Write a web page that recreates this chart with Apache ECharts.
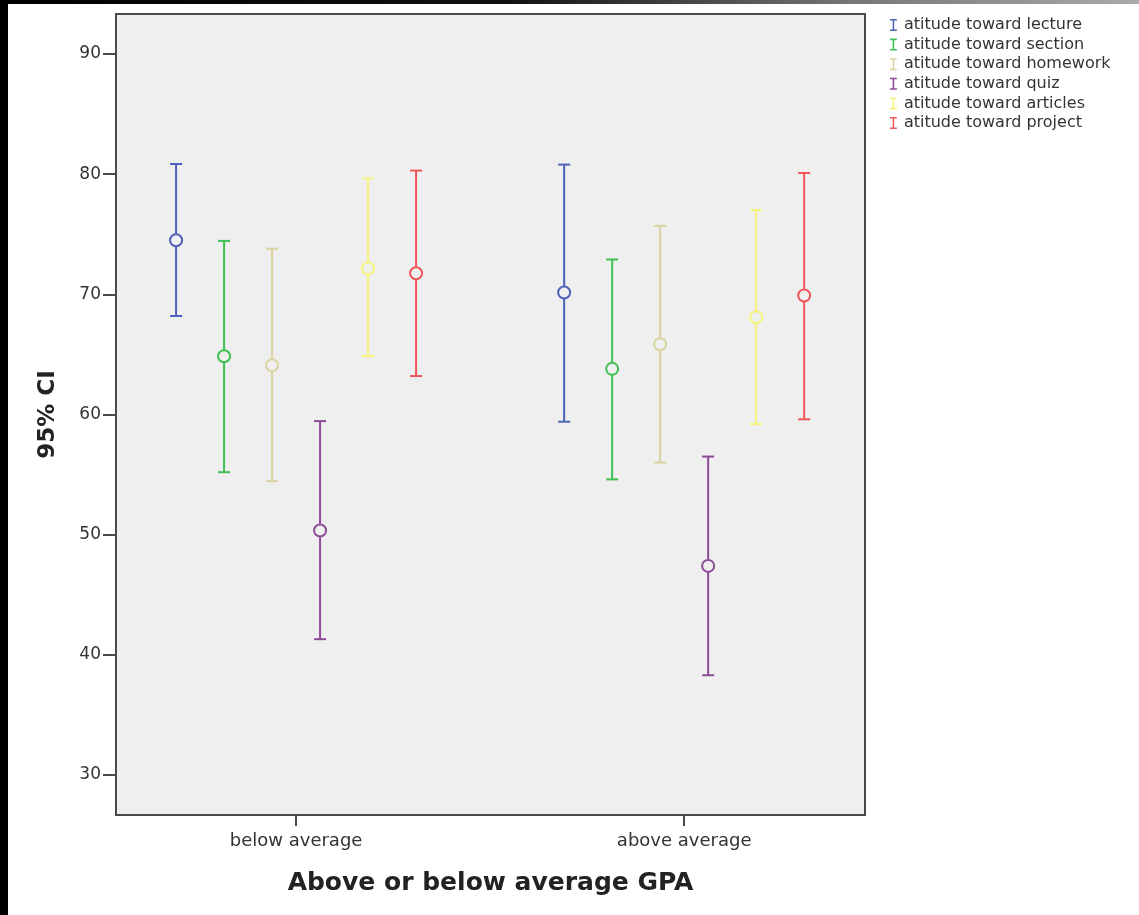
<!DOCTYPE html>
<html>
<head>
<meta charset="utf-8">
<script src="https://cdn.jsdelivr.net/npm/echarts@6/dist/echarts.min.js"></script>
<style>
  html, body { margin: 0; padding: 0; background: #fff; }
  #chart { width: 1139px; height: 915px; position: relative; }
  #leftbar { position: absolute; left: 0; top: 0; width: 8px; height: 915px; background: #000; z-index: 5; }
  #topbar { position: absolute; left: 0; top: 0; width: 1139px; height: 4px; z-index: 5;
            background: linear-gradient(to right, #000 0%, #111 45%, #777 75%, #aaa 100%); }
</style>
</head>
<body>
<div id="leftbar"></div>
<div id="topbar"></div>
<div id="chart"></div>
<script>
// ---- data ----
const categories = ['below average', 'above average'];
const seriesNames = [
  'atitude toward lecture',
  'atitude toward section',
  'atitude toward homework',
  'atitude toward quiz',
  'atitude toward articles',
  'atitude toward project'
];
// [low, mean, high] per category
const lecture  = [[68.2, 74.5, 80.85], [59.4, 70.15, 80.8]];
const section  = [[55.2, 64.85, 74.45], [54.6, 63.8, 72.9]];
const homework = [[54.45, 64.1, 73.8], [56.0, 65.85, 75.7]];
const quiz     = [[41.3, 50.35, 59.45], [38.3, 47.4, 56.5]];
const articles = [[64.85, 72.15, 79.65], [59.2, 68.1, 77.0]];
const project  = [[63.2, 71.75, 80.3], [59.6, 69.9, 80.1]];
const yTicks = [30, 40, 50, 60, 70, 80, 90];

const allData = [lecture, section, homework, quiz, articles, project];
const colors = ['#4a62b8', '#3fc052', '#d8d3a0', '#8d4c98', '#f6f37c', '#f0555b'];

const chart = echarts.init(document.getElementById('chart'));
const dodge = 48;
const capHalf = 6;

const series = allData.map((arr, si) => ({
  name: seriesNames[si],
  type: 'custom',
  data: arr.map((d, ci) => [ci, d[0], d[1], d[2]]),
  itemStyle: { color: colors[si] },
  renderItem: function (params, api) {
    const ci = api.value(0);
    const lo = api.coord([ci, api.value(1)]);
    const mid = api.coord([ci, api.value(2)]);
    const hi = api.coord([ci, api.value(3)]);
    const x = mid[0] + (si - 2.5) * dodge;
    const st = { stroke: colors[si], lineWidth: 2, fill: null };
    return {
      type: 'group',
      children: [
        { type: 'line', shape: { x1: x, y1: hi[1], x2: x, y2: lo[1] }, style: st },
        { type: 'line', shape: { x1: x - capHalf, y1: hi[1], x2: x + capHalf, y2: hi[1] }, style: st },
        { type: 'line', shape: { x1: x - capHalf, y1: lo[1], x2: x + capHalf, y2: lo[1] }, style: st },
        { type: 'circle', shape: { cx: x, cy: mid[1], r: 6 }, style: { stroke: colors[si], lineWidth: 2, fill: '#efefef' } }
      ]
    };
  }
}));

const barIcon = 'path://M0,0H8V1.8H4.9V12.2H8V14H0V12.2H3.1V1.8H0Z';

chart.setOption({
  animation: false,
  backgroundColor: '#ffffff',
  textStyle: { fontFamily: 'DejaVu Sans' },
  grid: {
    left: 116, right: 274, top: 14, bottom: 100,
    show: true, backgroundColor: '#efefef', borderColor: '#4a4a4a', borderWidth: 2
  },
  legend: {
    orient: 'vertical',
    left: 885, top: 12,
    itemWidth: 7, itemHeight: 12, itemGap: 3.6,
    selectedMode: false,
    textStyle: { fontSize: 16, color: '#333', fontFamily: 'DejaVu Sans', padding: [0, 0, 0, 2] },
    data: seriesNames.map((n, i) => ({ name: n, icon: barIcon, itemStyle: { color: colors[i] } }))
  },
  xAxis: {
    type: 'value',
    min: -0.464, max: 1.466,
    splitLine: { show: false },
    axisLine: { show: true, onZero: false, lineStyle: { color: '#4a4a4a', width: 2 } },
    axisTick: { show: true, customValues: [0, 1], length: 11, lineStyle: { color: '#4a4a4a', width: 2 } },
    axisLabel: {
      customValues: [0, 1], fontSize: 18, color: '#333', margin: 17,
      formatter: v => categories[Math.round(v)]
    },
    name: 'Above or below average GPA',
    nameLocation: 'middle', nameGap: 56,
    nameTextStyle: { fontSize: 25, fontWeight: 'bold', color: '#222' }
  },
  yAxis: {
    type: 'value',
    min: 26.667, max: 93.333,
    splitLine: { show: false },
    axisLine: { show: true, onZero: false, lineStyle: { color: '#4a4a4a', width: 2 } },
    axisTick: { show: true, customValues: yTicks, length: 13, lineStyle: { color: '#4a4a4a', width: 2 } },
    axisLabel: { customValues: yTicks, fontSize: 17, color: '#333', margin: 15 },
    name: '95% CI',
    nameLocation: 'middle', nameGap: 56, nameRotate: 90,
    nameTextStyle: { fontSize: 23, fontWeight: 'bold', color: '#222' }
  },
  series: series
});
</script>
</body>
</html>
